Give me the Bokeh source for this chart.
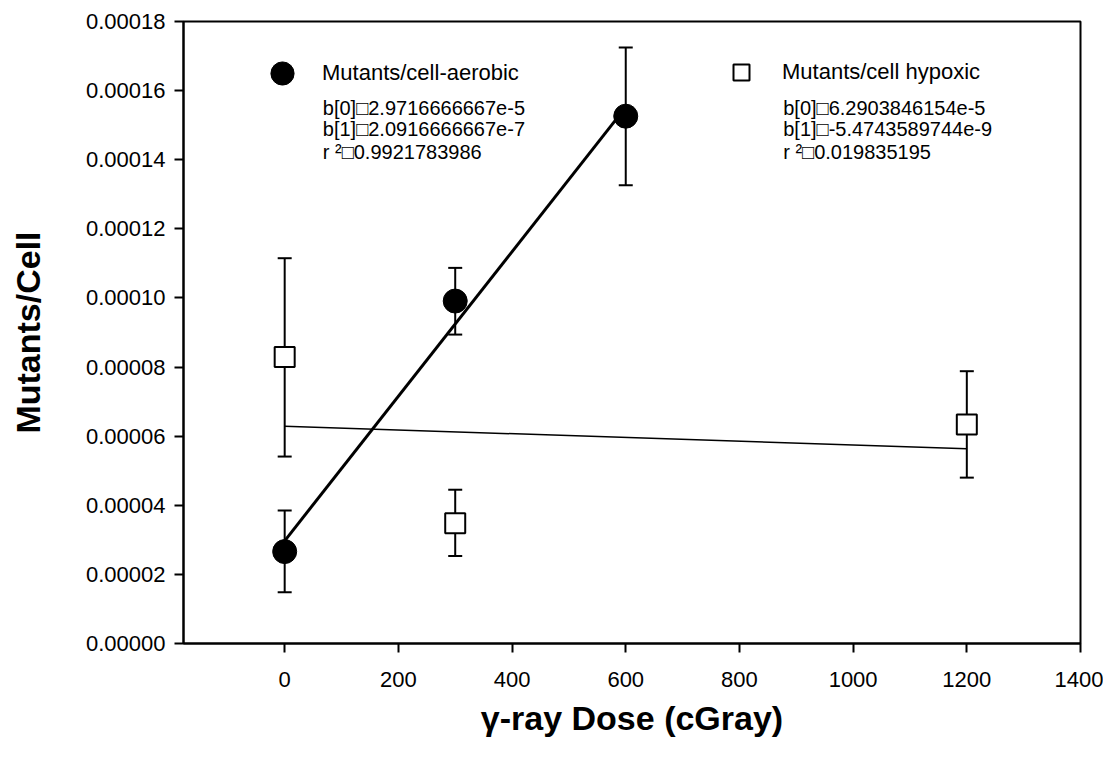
from bokeh.plotting import figure
from bokeh.models import (ColumnDataSource, Range1d, FixedTicker, Whisker, TeeHead,
                          Legend, LegendItem, Label, NumeralTickFormatter)
from bokeh.embed import file_html
from bokeh.resources import INLINE

# ---- data ----
dose_aerobic = [0, 300, 600]
mut_aerobic = [2.66e-5, 9.91e-5, 1.526e-4]
aerobic_upper = [3.85e-5, 1.087e-4, 1.725e-4]
aerobic_lower = [1.48e-5, 8.94e-5, 1.326e-4]

dose_hypoxic = [0, 300, 1200]
mut_hypoxic = [8.29e-5, 3.48e-5, 6.34e-5]
hypoxic_upper = [1.115e-4, 4.45e-5, 7.88e-5]
hypoxic_lower = [5.41e-5, 2.53e-5, 4.80e-5]

# regression coefficients printed on the chart
aerobic_b0, aerobic_b1 = 2.9716666667e-5, 2.0916666667e-7
hypoxic_b0, hypoxic_b1 = 6.2903846154e-5, -5.4743589744e-9
aerobic_fit_x = [0, 600]
hypoxic_fit_x = [0, 1200]

aerobic_text = ["b[0]\u25a12.9716666667e-5", "b[1]\u25a12.0916666667e-7", "r \u00b2\u25a10.9921783986"]
hypoxic_text = ["b[0]\u25a16.2903846154e-5", "b[1]\u25a1-5.4743589744e-9", "r \u00b2\u25a10.019835195"]

x_ticks = [0, 200, 400, 600, 800, 1000, 1200, 1400]
y_ticks = [0.0, 2e-5, 4e-5, 6e-5, 8e-5, 1e-4, 1.2e-4, 1.4e-4, 1.6e-4, 1.8e-4]

FONT = "Liberation Sans"

p = figure(width=1103, height=754, output_backend="svg", toolbar_location=None,
           x_range=Range1d(-178, 1400), y_range=Range1d(0, 0.00018),
           min_border_left=183, min_border_right=23, min_border_top=21, min_border_bottom=111)
p.grid.visible = False
p.outline_line_color = "black"
p.outline_line_width = 2
p.background_fill_color = "white"
p.border_fill_color = "white"

for ax in (p.xaxis[0], p.yaxis[0]):
    ax.axis_line_width = 2
    ax.major_tick_line_width = 2
    ax.major_tick_out = 9
    ax.major_tick_in = 0
    ax.minor_tick_line_color = None
    ax.major_label_text_font = FONT
    ax.major_label_text_color = "black"
    ax.axis_label_text_font = FONT
    ax.axis_label_text_font_style = "bold"
    ax.axis_label_text_font_size = "34px"
    ax.axis_label_text_color = "black"

p.xaxis.ticker = FixedTicker(ticks=x_ticks)
p.yaxis.ticker = FixedTicker(ticks=y_ticks)
p.yaxis.formatter = NumeralTickFormatter(format="0.00000")
p.xaxis.major_label_text_font_size = "22px"
p.yaxis.major_label_text_font_size = "22px"
p.xaxis.major_label_standoff = 19
p.yaxis.major_label_standoff = 9
p.xaxis.axis_label = "\u03b3-ray Dose (cGray)"
p.yaxis.axis_label = "Mutants/Cell"
p.xaxis.axis_label_standoff = 9
p.yaxis.axis_label_standoff = 36

src_a = ColumnDataSource(dict(x=dose_aerobic, y=mut_aerobic, up=aerobic_upper, lo=aerobic_lower))
src_h = ColumnDataSource(dict(x=dose_hypoxic, y=mut_hypoxic, up=hypoxic_upper, lo=hypoxic_lower))

for src in (src_a, src_h):
    w = Whisker(base="x", upper="up", lower="lo", source=src, line_width=2, line_color="black",
                upper_head=TeeHead(size=14, line_width=2, line_color="black"),
                lower_head=TeeHead(size=14, line_width=2, line_color="black"))
    p.add_layout(w)

p.line(aerobic_fit_x, [aerobic_b0 + aerobic_b1 * x for x in aerobic_fit_x],
       line_color="black", line_width=3)
p.line(hypoxic_fit_x, [hypoxic_b0 + hypoxic_b1 * x for x in hypoxic_fit_x],
       line_color="black", line_width=1.5)

r_a = p.scatter("x", "y", source=src_a, marker="circle", size=24,
                fill_color="black", line_color="black")
r_h = p.scatter("x", "y", source=src_h, marker="square", size=20,
                fill_color="white", line_color="black", line_width=2)

leg_a = Legend(items=[LegendItem(label="Mutants/cell-aerobic", renderers=[r_a])],
               location=(70, 541), glyph_width=58, glyph_height=58, label_standoff=11,
               padding=0, margin=0, border_line_color=None, background_fill_alpha=0,
               label_text_font=FONT, label_text_font_size="22px", label_text_color="black")
leg_h = Legend(items=[LegendItem(label="Mutants/cell hypoxic", renderers=[r_h])],
               location=(538, 551), glyph_width=40, glyph_height=40, label_standoff=21,
               padding=0, margin=0, border_line_color=None, background_fill_alpha=0,
               label_text_font=FONT, label_text_font_size="22px", label_text_color="black")
p.add_layout(leg_a)
p.add_layout(leg_h)

text_y = [1.551e-4, 1.489e-4, 1.422e-4]
for i in range(3):
    p.add_layout(Label(x=67, y=text_y[i], text=aerobic_text[i], text_font=FONT,
                       text_font_size="20px", text_baseline="middle", text_color="black"))
    p.add_layout(Label(x=877, y=text_y[i], text=hypoxic_text[i], text_font=FONT,
                       text_font_size="20px", text_baseline="middle", text_color="black"))

open("out.html", "w").write(file_html(p, INLINE))
